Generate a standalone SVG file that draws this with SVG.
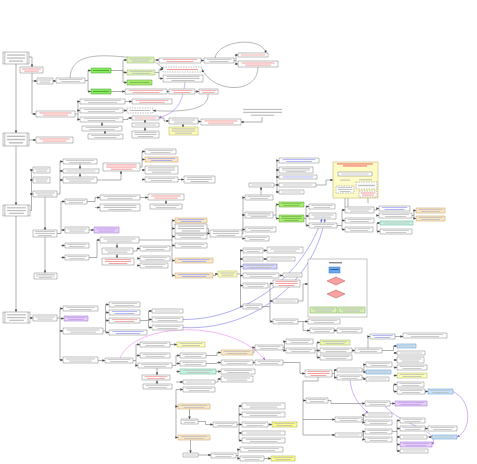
<svg xmlns="http://www.w3.org/2000/svg" xmlns:xlink="http://www.w3.org/1999/xlink" width="477" height="464" viewBox="0 0 477 464">
<style>
symbol{overflow:visible}
.bx{fill:var(--f,#fff);stroke:var(--s,#7c7c7c);stroke-width:.5;vector-effect:non-scaling-stroke;stroke-dasharray:var(--d,none)}
.vl{stroke:var(--s,#7c7c7c);stroke-width:.5;vector-effect:non-scaling-stroke}
.tl{fill:var(--t,#bdbdbd)}
.r{--t:#f29a9a}.b{--t:#9aa4f2}.p{--t:#c49cec}
.G{--f:#82ee5e;--s:#4d9a32;--t:#5aa83c}.L{--f:#e0f6b8;--s:#8cb062}.B{--f:#a8ee6e;--s:#5a9a32;--t:#78b850}
.T{--f:#fae7c8;--s:#c29c62}.Y{--f:#ffffb6;--s:#a8a862}.P{--f:#e6d0f8;--s:#9a6ac8}
.C{--f:#c9e4fa;--s:#5a8ec0}.Q{--f:#c9f5e3;--s:#5aa888}.V{--f:#d8d8fc;--s:#7070c0}
.YG{--f:#eaf8b2;--s:#98b060}.YB{--f:#ffff88;--s:#a0a040}
.d{--d:1.5 1}
.c path,path.c{fill:none;stroke:#606060;stroke-width:.5}
.c path{marker-end:url(#ah)}
.cu path{fill:none;stroke-width:.6}
</style>
<defs>
<marker id="ah" viewBox="0 0 6 6" refX="6" refY="3" markerWidth="2.6" markerHeight="2.6" markerUnits="userSpaceOnUse" orient="auto"><path d="M0,0L6,3L0,6z" fill="#404040"/></marker>
<marker id="ap" viewBox="0 0 6 6" refX="6" refY="3" markerWidth="2.6" markerHeight="2.6" markerUnits="userSpaceOnUse" orient="auto"><path d="M0,0L6,3L0,6z" fill="#a060e0"/></marker>
<marker id="ab" viewBox="0 0 6 6" refX="6" refY="3" markerWidth="2.6" markerHeight="2.6" markerUnits="userSpaceOnUse" orient="auto"><path d="M0,0L6,3L0,6z" fill="#5a5ae0"/></marker>
<symbol id="s1" viewBox="0 0 100 100" preserveAspectRatio="none"><rect class="bx" width="100" height="100"/><rect class="tl" x="10" y="40" width="80" height="20"/></symbol>
<symbol id="s2" viewBox="0 0 100 100" preserveAspectRatio="none"><rect class="bx" width="100" height="100"/><rect class="tl" x="9" y="25" width="82" height="16"/><rect class="tl" x="18" y="60" width="64" height="16"/></symbol>
<symbol id="s3" viewBox="0 0 100 100" preserveAspectRatio="none"><rect class="bx" width="100" height="100"/><rect class="tl" x="9" y="17" width="82" height="13"/><rect class="tl" x="9" y="44" width="82" height="13"/><rect class="tl" x="21" y="71" width="58" height="13"/></symbol>
<symbol id="sr" viewBox="0 0 100 100" preserveAspectRatio="none"><rect class="bx" width="100" height="100"/><path class="vl" d="M7,0V100M93,0V100"/><rect class="tl" x="15" y="20" width="70" height="11"/><rect class="tl" x="15" y="45" width="70" height="11"/><rect class="tl" x="23" y="70" width="54" height="11"/></symbol>
<symbol id="st" viewBox="0 0 100 100" preserveAspectRatio="none"><rect class="tl" x="0" y="10" width="100" height="13"/><rect class="tl" x="0" y="42" width="100" height="13"/><rect class="tl" x="20" y="74" width="60" height="13"/></symbol>
</defs>
<rect width="477" height="464" fill="#fff"/>

<g id="connectors">
<g class="c">
<path d="M16,64V133"/><path d="M16,146V205"/><path d="M16,216V312"/>
<path d="M29,57H32V67"/><path d="M32,73V114H36"/><path d="M32,81H37"/><path d="M53,81H56"/>
<path d="M85,80.5H88V70.5H91"/><path d="M88,80.5V91.5H91"/>
<path d="M111,70.5H123V60H127"/><path d="M123,70.5V72.5H127"/><path d="M123,70.5V82.5H127"/>
<path d="M154,60H159"/><path d="M201,60.5H204"/><path d="M234,60.5H236V55H238"/><path d="M236,60.5V64H238"/>
<path d="M155,72.5H159V69.5H163"/><path d="M159,72.5V78.5H163"/>
<path d="M111,91.5H125"/><path d="M167,91.5H169"/><path d="M195,91.5H199"/>
<path d="M75,114H78V101.5H80"/><path d="M78,110.5H80"/><path d="M78,114V119.5H80"/>
<path d="M102,122V126"/><path d="M105,131V134"/>
<path d="M125,101.5H132"/><path d="M123,110.5H127"/><path d="M123,119.5H128V118H132"/>
<path d="M145,120V123"/><path d="M145,127V131"/><path d="M159,118H164V121H169"/><path d="M183,127V124"/><path d="M198,121.5H201"/>
<path d="M262,117V122H241"/>
<path d="M29,140H36"/>
<path d="M30,210.5H31.5V170H33"/><path d="M31.5,180H33"/><path d="M31.5,194H33"/>
<path d="M45,197V230"/><path d="M45,237V273"/>
<path d="M57,194H60V161.5H63"/><path d="M60,171H63"/><path d="M60,180H63"/><path d="M80,164V169"/><path d="M80,173V177"/>
<path d="M97,180H121V171"/>
<path d="M140,167H142V151.5H145"/><path d="M142,159.5H145"/><path d="M142,170H145"/><path d="M142,179.5H145"/><path d="M178,179.5H184"/>
<path d="M57,233.5H61V201.5H65"/><path d="M61,230H65"/><path d="M61,245.5H65"/><path d="M61,257.5H65"/>
<path d="M87,201.5H95V197.5H100"/><path d="M95,207.5H100"/><path d="M140,197.5H148"/><path d="M166,200V204"/>
<path d="M89,230H94"/><path d="M89,257.5H97V240H100"/><path d="M117,243V248"/><path d="M117,254V258"/>
<path d="M133,251H137V248.5H140"/><path d="M137,258.5H140"/><path d="M137,265.5H140"/>
<path d="M139,240H172V220.5H175"/><path d="M172,228.5H175"/><path d="M172,236.5H175"/><path d="M172,245.5H175"/><path d="M172,240V260.5H175"/><path d="M172,260.5V275.5H175"/>
<path d="M207,228.5H208.5V233.5H210"/><path d="M213,275.5H215.5V274H218"/>
<path d="M242,233.5H243V197.5H245"/><path d="M243,215H245"/><path d="M243,229.5H245"/><path d="M243,238.5H245"/>
<path d="M261,195V187"/>
<path d="M274,185H277V160.5H279"/><path d="M277,170H279"/><path d="M277,177H279"/><path d="M277,185H279"/><path d="M277,185V192H279"/>
<path d="M316,185H326V180H333"/>
<path d="M273,215H276V204.5H279"/><path d="M276,215V218.5H279"/>
<path d="M304,218.5H306V206.5H309"/><path d="M306,216H309"/><path d="M306,218.5V225.5H309"/>
<path d="M337,225.5H342V210H345"/><path d="M342,220.5H345"/><path d="M342,225.5V229.5H345"/>
<path d="M374,210H377V208.5H379"/><path d="M377,215.5H379"/><path d="M377,223H380"/><path d="M377,223V231.5H380"/>
<path d="M412,215.5H414V210.5H416"/><path d="M414,215.5V218.5H416"/>
<path d="M237,274H240.5V250.5H243"/><path d="M240.5,259H243"/><path d="M240.5,266.5H243"/><path d="M240.5,275.5H243"/><path d="M240.5,275H240.5V285.5H243"/><path d="M240.5,285.5V306.5H243"/>
<path d="M263,250.5H267"/><path d="M263,259H267"/><path d="M279,275.5H283"/>
<path d="M262,306.5H270V283.5H273"/><path d="M270,301H273"/><path d="M270,306.5V321.5H273"/>
<path d="M298,321.5H308"/><path d="M303,321.5V330.5H310"/><path d="M334,330.5H337"/>
<path d="M298,301H303V284H308"/>
<path d="M30,318H33"/>
<path d="M57,318H60V308.5H63"/><path d="M60,318.5H64"/><path d="M60,318H60V331H63"/><path d="M60,331V360H63"/>
<path d="M103,331H105.5V304.5H109"/><path d="M105.5,312.5H109"/><path d="M105.5,320.5H109"/><path d="M105.5,331V332.5H109"/>
<path d="M140,320.5H148.5V311H152"/><path d="M148.5,319.5H152"/><path d="M148.5,320.5V327.5H152"/>
<path d="M98,360.5H105"/>
<path d="M133,360.5H136V344.5H140"/><path d="M136,355.5H140"/><path d="M136,360.5V365.5H138"/>
<path d="M170,344.5H177"/><path d="M157,368V375"/><path d="M157,380V384"/>
<path d="M172,365.5H176V355.5H180"/><path d="M176,363.5H180"/><path d="M176,371.5H180"/><path d="M176,382H183"/><path d="M176,389.5H183"/><path d="M176,389.5V406.5H178"/><path d="M176,406.5V437.5H178"/>
<path d="M206,355.5H217V352.5H221"/><path d="M206,363.5H217V362.5H221"/><path d="M216,371.5H221"/><path d="M215,382H218V379H221"/>
<path d="M253,352.5H254V347.5H255"/><path d="M253,362.5H255"/>
<path d="M283,347.5H284.5V341.5H286"/><path d="M284.5,347.5V350.5H286"/>
<path d="M315,350.5H317V342.5H320"/><path d="M317,350.5H320"/><path d="M317,350.5V357.5H320"/>
<path d="M352,350.5H355"/><path d="M368,348V336.5H370"/><path d="M395,336.5H403"/>
<path d="M382,350.5H393.5V346H397"/><path d="M393.5,353H397"/><path d="M393.5,360H397"/><path d="M393.5,367.5H397"/><path d="M393.5,375.5H397"/><path d="M393.5,384.5H397"/><path d="M393.5,384.5V391.5H397"/>
<path d="M425,391.5H428"/>
<path d="M283,362.5H300V373.5H305"/>
<path d="M332,373.5H334.5V370H337"/><path d="M334.5,373.5V377.5H337"/>
<path d="M362,370H364V364.5H366"/><path d="M364,370V372H366"/><path d="M362,377.5H364V379H366"/>
<path d="M318,377V381H303V400.5H306"/><path d="M303,400.5V419.5H335"/><path d="M303,419.5V435H335"/>
<path d="M328,400.5H331V403.5H365"/><path d="M390,403.5H395"/>
<path d="M362,419.5H363.5V415H365"/><path d="M363.5,419.5V422.5H365"/>
<path d="M362,435H363.5V431.5H365"/><path d="M363.5,435V439.5H365"/>
<path d="M392,431.5H397V420.5H400"/><path d="M397,428.5H400"/><path d="M397,431.5V437H400"/><path d="M397,437V444.5H400"/><path d="M397,444.5V451H400"/>
<path d="M425,428.5H428"/><path d="M427,437H432"/>
<path d="M189.5,409V419"/><path d="M198,421.5H205.5V424.5H213"/>
<path d="M237,424.5H239V406H242"/><path d="M239,414.5H242"/><path d="M239,424.5H242"/><path d="M239,424.5V433H242"/><path d="M239,433V440.5H242"/><path d="M268,424.5H272"/>
<path d="M190.5,440V453"/><path d="M198,455H211"/><path d="M236,455.5H238V449.5H240"/><path d="M238,455.5V458.5H240"/><path d="M264,458.5H271"/>
<path d="M334.5,273V277"/><path d="M336,285V290"/><path d="M327,294H323V307"/><path d="M345,281H352V307"/>
<path d="M345.5,176V186"/><path d="M366,176V182"/>
</g>
<path class="c" d="M345,198V207M348,198V207M368,197V203" stroke="#999"/>
<g class="cu">
<path d="M70,78C71,55 95,54 125,57S158,62 163,69.5" stroke="#8a8a8a" marker-end="url(#ah)"/>
<path d="M215,58C218,40 262,36 266,53" stroke="#8a8a8a" marker-end="url(#ah)"/>
<path d="M258,67C258,94 215,94 202,69.5" stroke="#8a8a8a" marker-end="url(#ah)"/>
<path d="M208,94C210,112 175,112 153,110.5" stroke="#8a8a8a" marker-end="url(#ah)"/>
<path d="M185,82C183,100 178,113 159,117.5" stroke="#b080f0" marker-end="url(#ap)"/>
<path d="M183,319.5C240,320 300,282 322,219" stroke="#7a7af0" marker-end="url(#ab)"/>
<path d="M183,327.5C250,331 312,286 325,219" stroke="#7a7af0" marker-end="url(#ab)"/>
<path d="M120,358C135,322 232,318 265,360" stroke="#f088f0" marker-end="url(#ap)"/>
<path d="M453,391.5C472,400 472,430 457,437" stroke="#b080f0" marker-end="url(#ap)"/>
<path d="M350,380C352,398 360,405 368,413" stroke="#b080f0" marker-end="url(#ap)"/>
<path d="M385,406C400,425 442,430 432,444.5" stroke="#b080f0" marker-end="url(#ap)"/>
</g>
</g>

<g id="R1"><use href="#sr" x="3" y="52" width="26" height="12"/></g>
<g id="R2"><use href="#sr" x="3" y="133" width="26" height="13"/></g>
<g id="R3"><use href="#sr" x="3" y="205" width="27" height="11"/></g>
<g id="R4"><use href="#sr" x="3" y="312" width="27" height="11"/></g>
<g id="a1"><use href="#s2" class="r" x="20" y="67" width="23" height="6"/></g>
<g id="a2"><use href="#s2" x="37" y="78" width="16" height="6"/></g>
<g id="a3"><use href="#s2" x="56" y="78" width="29" height="5"/></g>
<g id="g1"><use href="#s1" class="G" x="91" y="68" width="20" height="5"/></g>
<g id="g2"><use href="#s1" class="G" x="91" y="89" width="20" height="5"/></g>
<g id="lg1"><use href="#s2" class="L" x="127" y="57" width="27" height="6"/></g>
<g id="lg2"><use href="#s2" class="L" x="127" y="70" width="28" height="5"/></g>
<g id="bg"><use href="#s1" class="B" x="127" y="80" width="25" height="5"/></g>
<g id="b1"><use href="#s2" class="r" x="159" y="58" width="42" height="5"/></g>
<g id="b2"><use href="#s2" x="204" y="58" width="30" height="5"/></g>
<g id="b3"><use href="#s1" class="r" x="238" y="53" width="30" height="4"/></g>
<g id="b4"><use href="#s2" class="r" x="238" y="61" width="40" height="6"/></g>
<g id="d1"><use href="#s1" class="r d" x="163" y="67" width="39" height="5"/></g>
<g id="b5"><use href="#s3" x="163" y="75" width="40" height="7"/></g>
<g id="c1"><use href="#s2" class="r" x="125" y="89" width="42" height="5"/></g>
<g id="c2"><use href="#s2" class="r" x="169" y="89" width="26" height="5"/></g>
<g id="c3"><use href="#s2" class="r" x="199" y="89" width="19" height="5"/></g>
<g id="a4"><use href="#s2" class="r" x="36" y="111" width="39" height="6"/></g>
<g id="e1"><use href="#s2" x="80" y="99" width="45" height="5"/></g>
<g id="e2"><use href="#s2" x="80" y="108" width="43" height="5"/></g>
<g id="e3"><use href="#s2" x="80" y="117" width="43" height="5"/></g>
<g id="e4"><use href="#s2" x="82" y="126" width="40" height="5"/></g>
<g id="e5"><use href="#s2" x="88" y="134" width="35" height="5"/></g>
<g id="f1"><use href="#s2" class="r" x="132" y="99" width="40" height="5"/></g>
<g id="fd"><use href="#s1" class="d" x="127" y="108" width="26" height="5"/></g>
<g id="f2"><use href="#s1" class="r" x="132" y="116" width="27" height="4"/></g>
<g id="f3"><use href="#s1" x="132" y="123" width="27" height="4"/></g>
<g id="f4"><use href="#s3" x="132" y="131" width="27" height="7"/></g>
<g id="f5"><use href="#s2" x="169" y="118" width="29" height="6"/></g>
<g id="fy"><use href="#s3" class="Y" x="169" y="127" width="29" height="8"/></g>
<g id="f6"><use href="#s2" class="r" x="201" y="119" width="40" height="6"/></g>
<g id="note1"><use href="#st" x="243" y="108" width="39" height="9"/></g>
<g id="h1"><use href="#s2" class="r" x="36" y="137" width="37" height="6"/></g>
<g id="i1"><use href="#s2" x="33" y="167" width="17" height="6"/></g>
<g id="i2"><use href="#s2" x="33" y="177" width="17" height="6"/></g>
<g id="i3"><use href="#s2" x="33" y="191" width="24" height="6"/></g>
<g id="i4"><use href="#s3" x="33" y="230" width="24" height="7"/></g>
<g id="i5"><use href="#s3" x="34" y="273" width="23" height="6"/></g>
<g id="j1"><use href="#s2" x="63" y="159" width="34" height="5"/></g>
<g id="j2"><use href="#s1" x="63" y="169" width="36" height="4"/></g>
<g id="j3"><use href="#s2" x="63" y="177" width="34" height="6"/></g>
<g id="j4"><use href="#s3" class="r" x="103" y="163" width="37" height="8"/></g>
<g id="k1"><use href="#s2" x="145" y="149" width="31" height="5"/></g>
<g id="k2"><use href="#s2" class="T b" x="145" y="157" width="33" height="5"/></g>
<g id="k3"><use href="#s3" x="145" y="166" width="33" height="8"/></g>
<g id="k4"><use href="#s2" x="145" y="177" width="33" height="5"/></g>
<g id="k5"><use href="#s3" x="184" y="176" width="31" height="7"/></g>
<g id="l1"><use href="#s2" x="65" y="199" width="22" height="5"/></g>
<g id="l2"><use href="#s2" x="100" y="195" width="40" height="5"/></g>
<g id="l3"><use href="#s3" x="100" y="204" width="40" height="7"/></g>
<g id="l4"><use href="#s2" class="r" x="148" y="194" width="36" height="6"/></g>
<g id="l5"><use href="#s2" x="150" y="204" width="32" height="5"/></g>
<g id="m1"><use href="#s2" x="65" y="227" width="24" height="6"/></g>
<g id="mp"><use href="#s2" class="P p" x="94" y="227" width="25" height="6"/></g>
<g id="m2"><use href="#s2" x="65" y="243" width="24" height="5"/></g>
<g id="m3"><use href="#s2" x="65" y="255" width="24" height="5"/></g>
<g id="n1"><use href="#s2" x="100" y="237" width="39" height="6"/></g>
<g id="n2"><use href="#s2" x="102" y="248" width="31" height="6"/></g>
<g id="n3"><use href="#s3" class="r" x="102" y="258" width="32" height="7"/></g>
<g id="o1"><use href="#s2" x="140" y="246" width="30" height="5"/></g>
<g id="o2"><use href="#s2" x="140" y="256" width="30" height="5"/></g>
<g id="o3"><use href="#s2" x="140" y="263" width="28" height="5"/></g>
<g id="p1"><use href="#s2" class="T b" x="175" y="218" width="32" height="5"/></g>
<g id="p2"><use href="#s3" x="175" y="224" width="32" height="9"/></g>
<g id="p3"><use href="#s2" x="175" y="234" width="32" height="5"/></g>
<g id="p4"><use href="#s2" x="175" y="243" width="32" height="5"/></g>
<g id="q1"><use href="#s3" x="210" y="230" width="32" height="7"/></g>
<g id="pt1"><use href="#s2" class="T b" x="175" y="258" width="38" height="5"/></g>
<g id="pt2"><use href="#s2" class="T b" x="175" y="273" width="38" height="5"/></g>
<g id="py"><use href="#s2" class="Y" x="218" y="271" width="19" height="6"/></g>
<g id="s1n"><use href="#s1" x="249" y="183" width="25" height="4"/></g>
<g id="s2n"><use href="#s2" x="245" y="195" width="28" height="5"/></g>
<g id="s3n"><use href="#s3" x="245" y="212" width="28" height="6"/></g>
<g id="s4n"><use href="#s2" x="245" y="227" width="31" height="5"/></g>
<g id="s5n"><use href="#s2" x="245" y="236" width="24" height="5"/></g>
<g id="t1"><use href="#s2" class="b" x="279" y="158" width="40" height="5"/></g>
<g id="t2"><use href="#s3" x="279" y="167" width="34" height="6"/></g>
<g id="t3"><use href="#s1" class="b" x="279" y="175" width="38" height="4"/></g>
<g id="t4"><use href="#s1" x="279" y="183" width="37" height="4"/></g>
<g id="t5"><use href="#s1" x="279" y="190" width="25" height="4"/></g>
<g id="tg1"><use href="#s2" class="B" x="279" y="202" width="25" height="5"/></g>
<g id="tg2"><use href="#s3" class="B" x="279" y="215" width="25" height="7"/></g>
<g id="u1"><use href="#s2" x="309" y="204" width="26" height="5"/></g>
<g id="u2"><use href="#s2" x="309" y="213" width="27" height="6"/></g>
<g id="u3"><use href="#s2" x="309" y="223" width="28" height="5"/></g>
<g id="ypanel">
<rect x="333" y="162" width="45" height="36" fill="#fffbc6" stroke="#b8a862" stroke-width=".5"/>
<rect x="337" y="163.4" width="36" height="1.1" fill="#f07070"/><rect x="343" y="165.4" width="24" height="1.1" fill="#f07070"/>
<use href="#s1" x="338" y="172" width="34" height="4"/>
<rect x="340" y="179.6" width="10" height="1" fill="#bdbdbd"/><rect x="359" y="179.3" width="13" height="1" fill="#bdbdbd"/>
<use href="#s3" class="d" x="336" y="186" width="18" height="7"/>
<use href="#s1" class="d" x="356" y="182" width="21" height="7"/>
<use href="#s2" class="r d" x="359" y="191" width="18" height="6"/>
</g>
<g id="v1"><use href="#s2" x="345" y="207" width="29" height="6"/></g>
<g id="v2"><use href="#s2" x="345" y="218" width="29" height="5"/></g>
<g id="v3"><use href="#s2" x="345" y="227" width="28" height="5"/></g>
<g id="w1"><use href="#s2" class="b" x="379" y="206" width="31" height="5"/></g>
<g id="w2"><use href="#s2" x="379" y="213" width="33" height="5"/></g>
<g id="w3"><use href="#s1" class="Q" x="380" y="221" width="33" height="4"/></g>
<g id="w4"><use href="#s2" x="380" y="229" width="32" height="5"/></g>
<g id="x1"><use href="#s2" class="T" x="416" y="208" width="29" height="5"/></g>
<g id="x2"><use href="#s2" class="T" x="416" y="216" width="29" height="5"/></g>
<g id="y1"><use href="#s2" x="243" y="248" width="20" height="5"/></g>
<g id="y2"><use href="#s2" x="267" y="247" width="36" height="6"/></g>
<g id="y3"><use href="#s1" x="243" y="257" width="20" height="4"/></g>
<g id="y4"><use href="#s1" x="267" y="257" width="28" height="4"/></g>
<g id="yb"><use href="#s2" class="V" x="243" y="264" width="34" height="5"/></g>
<g id="y5"><use href="#s2" x="243" y="273" width="36" height="5"/></g>
<g id="y6"><use href="#s1" x="283" y="273" width="19" height="4"/></g>
<g id="y7"><use href="#s2" x="243" y="283" width="25" height="5"/></g>
<g id="yr"><use href="#s3" class="r" x="273" y="280" width="27" height="7"/></g>
<g id="y8"><use href="#s1" x="273" y="299" width="25" height="4"/></g>
<g id="y9"><use href="#s2" x="243" y="304" width="19" height="5"/></g>
<g id="y10"><use href="#s2" x="273" y="319" width="25" height="5"/></g>
<g id="y11"><use href="#s2" x="308" y="319" width="32" height="5"/></g>
<g id="y12"><use href="#s2" x="310" y="328" width="24" height="5"/></g>
<g id="y13"><use href="#s2" x="337" y="328" width="25" height="5"/></g>
<g id="flow">
<rect x="308" y="259" width="59" height="58" fill="#fff" stroke="#8a8a8a" stroke-width=".5"/>
<rect x="329" y="262" width="13" height="1.4" fill="#888"/>
<rect x="329" y="267" width="11" height="6" fill="#6aa8f0" stroke="#3a72c0" stroke-width=".5"/>
<rect x="330.5" y="269" width="8" height="1" fill="#2e5a9a"/>
<polygon points="327,281 336,277 345,281 336,285" fill="#f7a2a2" stroke="#c05050" stroke-width=".5"/>
<polygon points="327,294 336,290 345,294 336,298" fill="#f7a2a2" stroke="#c05050" stroke-width=".5"/>
<use href="#s2" style="--f:#d4f2b4;--s:#74a454" x="310" y="307" width="27" height="6"/>
<use href="#s2" style="--f:#d4f2b4;--s:#74a454" x="338" y="307" width="27" height="6"/>
</g>
<g id="z1"><use href="#s2" x="33" y="315" width="24" height="6"/></g>
<g id="z2"><use href="#s2" x="63" y="306" width="35" height="5"/></g>
<g id="zp"><use href="#s2" class="P p" x="64" y="316" width="24" height="5"/></g>
<g id="z3"><use href="#s2" x="63" y="328" width="40" height="6"/></g>
<g id="z4"><use href="#s2" x="63" y="357" width="35" height="6"/></g>
<g id="aa1"><use href="#s2" x="109" y="302" width="31" height="5"/></g>
<g id="aa2"><use href="#s2" class="b" x="109" y="310" width="31" height="5"/></g>
<g id="aa3"><use href="#s2" class="r" x="109" y="318" width="31" height="5"/></g>
<g id="aa4"><use href="#s2" class="b" x="109" y="330" width="38" height="5"/></g>
<g id="bb1"><use href="#s1" x="152" y="309" width="31" height="4"/></g>
<g id="bb2"><use href="#s2" x="152" y="317" width="31" height="5"/></g>
<g id="bb3"><use href="#s2" x="152" y="325" width="31" height="5"/></g>
<g id="cc"><use href="#s2" x="105" y="358" width="28" height="5"/></g>
<g id="dd1"><use href="#s2" x="140" y="342" width="30" height="5"/></g>
<g id="ddy"><use href="#s2" class="Y" x="177" y="342" width="28" height="5"/></g>
<g id="dd2"><use href="#s2" x="140" y="353" width="30" height="5"/></g>
<g id="dd3"><use href="#s2" x="138" y="363" width="34" height="5"/></g>
<g id="dd4"><use href="#s2" class="r" x="142" y="375" width="28" height="5"/></g>
<g id="dd5"><use href="#s2" x="143" y="384" width="29" height="5"/></g>
<g id="ee1"><use href="#s2" x="180" y="353" width="26" height="5"/></g>
<g id="ee2"><use href="#s2" x="180" y="361" width="26" height="5"/></g>
<g id="ee3"><use href="#s2" class="Q" x="180" y="369" width="36" height="5"/></g>
<g id="ee4"><use href="#s1" x="183" y="380" width="32" height="4"/></g>
<g id="ee5"><use href="#s2" x="183" y="387" width="32" height="5"/></g>
<g id="gg1"><use href="#s2" class="T" x="221" y="350" width="32" height="5"/></g>
<g id="gg2"><use href="#s2" x="221" y="360" width="32" height="5"/></g>
<g id="gg3"><use href="#s2" x="221" y="369" width="34" height="5"/></g>
<g id="gg4"><use href="#s2" x="221" y="376" width="32" height="6"/></g>
<g id="hh1"><use href="#s2" x="255" y="345" width="28" height="5"/></g>
<g id="hh2"><use href="#s2" x="255" y="360" width="28" height="5"/></g>
<g id="ii1"><use href="#s2" x="286" y="339" width="27" height="5"/></g>
<g id="ii2"><use href="#s2" x="286" y="348" width="29" height="5"/></g>
<g id="jj1"><use href="#s2" class="YG" x="320" y="340" width="30" height="5"/></g>
<g id="jj2"><use href="#s2" x="320" y="348" width="32" height="5"/></g>
<g id="jj3"><use href="#s2" x="320" y="355" width="32" height="5"/></g>
<g id="kk"><use href="#s2" x="355" y="348" width="27" height="5"/></g>
<g id="mm1"><use href="#s2" class="b" x="370" y="334" width="25" height="5"/></g>
<g id="mm2"><use href="#s2" x="403" y="333" width="44" height="5"/></g>
<g id="nn"><use href="#s3" class="r" x="305" y="370" width="27" height="7"/></g>
<g id="nn2"><use href="#s1" x="337" y="368" width="25" height="4"/></g>
<g id="nn3"><use href="#s2" x="337" y="375" width="25" height="5"/></g>
<g id="nn5"><use href="#s2" x="366" y="362" width="26" height="5"/></g>
<g id="nnb"><use href="#s1" class="C" x="366" y="370" width="25" height="4"/></g>
<g id="nn4"><use href="#s1" x="366" y="377" width="23" height="4"/></g>
<g id="oo"><use href="#s1" class="C" x="397" y="344" width="19" height="4"/></g>
<g id="oo1"><use href="#s1" x="397" y="351" width="28" height="4"/></g>
<g id="oo2"><use href="#s2" x="397" y="357" width="27" height="6"/></g>
<g id="oo3"><use href="#s2" x="397" y="365" width="30" height="5"/></g>
<g id="ooy"><use href="#s2" class="Y" x="397" y="373" width="30" height="5"/></g>
<g id="oo4"><use href="#s2" x="397" y="382" width="27" height="5"/></g>
<g id="oo5"><use href="#s2" x="397" y="389" width="28" height="5"/></g>
<g id="oob"><use href="#s2" class="C" x="428" y="389" width="25" height="5"/></g>
<g id="pp2"><use href="#s2" x="306" y="398" width="22" height="5"/></g>
<g id="qq1"><use href="#s2" x="365" y="401" width="25" height="5"/></g>
<g id="qqp"><use href="#s2" class="P p" x="395" y="401" width="32" height="5"/></g>
<g id="rr"><use href="#s2" x="335" y="417" width="27" height="5"/></g>
<g id="rr1"><use href="#s1" x="365" y="413" width="27" height="4"/></g>
<g id="rr2"><use href="#s2" x="365" y="420" width="27" height="5"/></g>
<g id="ss1"><use href="#s2" x="400" y="418" width="25" height="5"/></g>
<g id="ss2"><use href="#s2" x="400" y="426" width="25" height="5"/></g>
<g id="ss3"><use href="#s2" x="428" y="426" width="29" height="5"/></g>
<g id="ss4"><use href="#s1" x="400" y="435" width="27" height="4"/></g>
<g id="ssb"><use href="#s1" class="C" x="432" y="435" width="25" height="4"/></g>
<g id="ssp"><use href="#s2" class="P p" x="400" y="442" width="32" height="5"/></g>
<g id="ss5"><use href="#s1" x="400" y="449" width="28" height="4"/></g>
<g id="tt"><use href="#s1" x="335" y="433" width="27" height="4"/></g>
<g id="tt1"><use href="#s2" x="365" y="429" width="27" height="5"/></g>
<g id="tt2"><use href="#s2" x="365" y="437" width="27" height="5"/></g>
<g id="uu"><use href="#s2" class="T" x="178" y="404" width="32" height="5"/></g>
<g id="uu1"><use href="#s2" x="181" y="419" width="17" height="5"/></g>
<g id="uu2"><use href="#s2" x="213" y="422" width="24" height="5"/></g>
<g id="vv1"><use href="#s2" x="242" y="403" width="43" height="6"/></g>
<g id="vv2"><use href="#s2" x="242" y="412" width="43" height="5"/></g>
<g id="vv3"><use href="#s2" x="242" y="422" width="26" height="5"/></g>
<g id="vvy"><use href="#s2" class="YB" x="272" y="422" width="25" height="5"/></g>
<g id="vv4"><use href="#s1" x="242" y="431" width="43" height="4"/></g>
<g id="vv5"><use href="#s2" x="242" y="438" width="43" height="5"/></g>
<g id="ww"><use href="#s2" class="T" x="178" y="435" width="32" height="5"/></g>
<g id="ww1"><use href="#s1" x="183" y="453" width="15" height="4"/></g>
<g id="ww2"><use href="#s2" x="211" y="453" width="25" height="5"/></g>
<g id="ww3"><use href="#s2" x="240" y="447" width="43" height="5"/></g>
<g id="ww4"><use href="#s2" x="240" y="456" width="24" height="5"/></g>
<g id="wwy"><use href="#s2" class="YB" x="271" y="456" width="24" height="5"/></g>
</svg>
